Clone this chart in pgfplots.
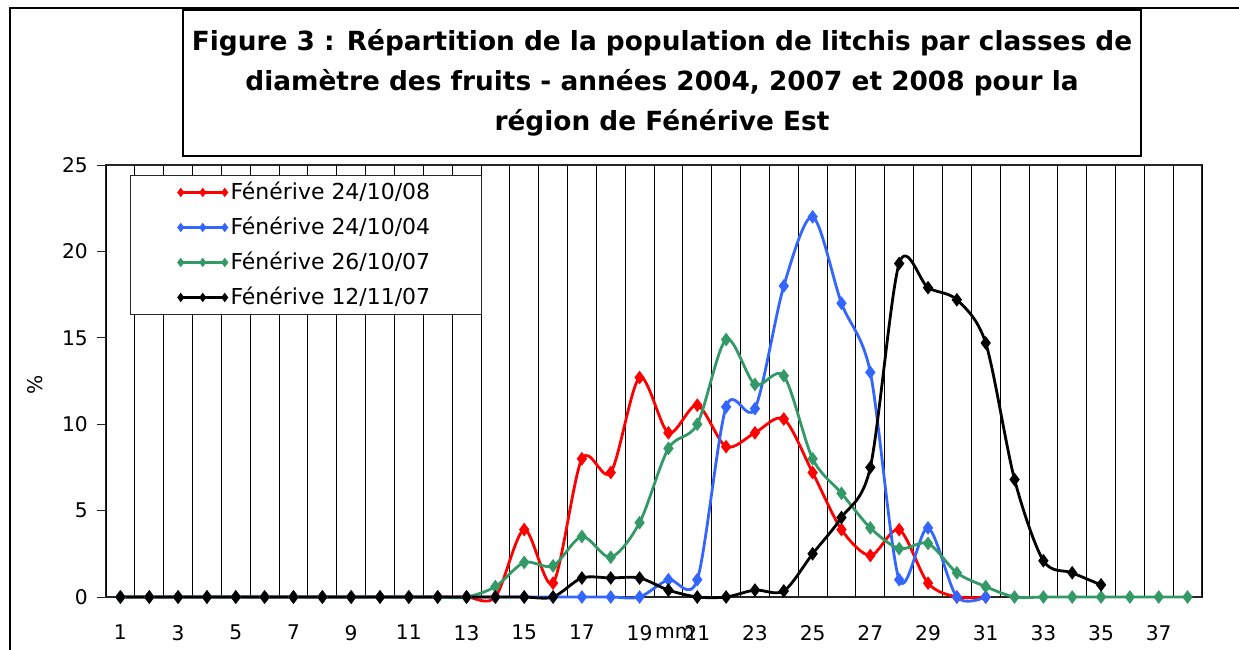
\documentclass[border=0pt]{standalone}
\usepackage{pgfplots}
\pgfplotsset{compat=1.18}
\usepackage{fontspec}
\setmainfont{DejaVu Sans}
\definecolor{cred}{RGB}{255,0,0}
\definecolor{cblue}{RGB}{51,102,255}
\definecolor{cgreen}{RGB}{51,153,102}
\begin{document}
\begin{tikzpicture}
\useasboundingbox (0,0) rectangle (24.78,13);
\clip (0,0) rectangle (24.78,13);
\draw[line width=0.7pt] (0.2,-1) rectangle (26,12.84);
\draw[line width=0.8pt] (3.66,9.88) rectangle (22.82,12.8);
\node[align=center, font=\fontsize{15}{22.7}\selectfont\bfseries] at (13.24,11.34)
 {Figure 3 : Répartition de la population de litchis par classes de\\
  diamètre des fruits - années 2004, 2007 et 2008 pour la\\
  région de Fénérive Est};
\node[rotate=90, font=\fontsize{11.5}{13}\selectfont] at (0.7,5.3) {\%};
\begin{axis}[
  at={(2.12cm,1.06cm)}, anchor=south west,
  scale only axis, width=21.92cm, height=8.64cm,
  xmin=0.5, xmax=38.5, ymin=0, ymax=25,
  clip=false,
  axis line style={black!85, line width=0.7pt},
  tick pos=left,
  xtick={1,3,...,37},
  x tick style={draw=none},
  extra x ticks={0.5,1.5,...,38.5},
  extra x tick labels={},
  extra x tick style={grid=major, major grid style={black, line width=0.5pt}, tick style={draw=black!85, line width=0.5pt}, major tick length=0.15cm, tick align=outside},
  ytick={0,5,...,25},
  y tick style={black!85, line width=0.5pt},
  tick align=outside, major tick length=0.18cm,
  /pgf/number format/assume math mode=true,
  ticklabel style={font=\fontsize{11.5}{13}\selectfont},
  x tick label style={yshift=-0.26cm},
  y tick label style={xshift=-0.06cm},
  legend style={at={(axis description cs:0.0219,0.977)}, anchor=north west,
    draw=black!85, line width=0.6pt, font=\fontsize{12.5}{14}\selectfont,
    inner xsep=0.96cm, inner ysep=0.03cm,
    nodes={inner sep=0.07cm, text height=0.38cm, text depth=0.1cm}, row sep=0.08cm},
  legend cell align=left,
  legend image code/.code={\draw[#1, line width=1.2pt, mark size=1.7pt] plot coordinates {(0cm,0cm) (0.44cm,0cm) (0.88cm,0cm)};},
  every axis plot/.append style={smooth, tension=0.5, line width=1.6pt, mark=diamond*, mark size=2.6pt, mark repeat=1},
]
\addplot[cred, mark options={fill=cred, draw=cred}] coordinates {
(1,0)(2,0)(3,0)(4,0)(5,0)(6,0)(7,0)(8,0)(9,0)(10,0)(11,0)(12,0)(13,0)(14,0)
(15,3.9)(16,0.8)(17,8.0)(18,7.2)(19,12.7)(20,9.5)(21,11.1)(22,8.7)(23,9.5)(24,10.3)
(25,7.2)(26,3.9)(27,2.4)(28,3.9)(29,0.8)(30,0)(31,0)};
\addlegendentry{Fénérive 24/10/08}
\addplot[cblue, mark options={fill=cblue, draw=cblue}] coordinates {
(1,0)(2,0)(3,0)(4,0)(5,0)(6,0)(7,0)(8,0)(9,0)(10,0)(11,0)(12,0)(13,0)(14,0)
(15,0)(16,0)(17,0)(18,0)(19,0)(20,1.0)(21,1.0)(22,11.0)(23,10.9)(24,18.0)
(25,22.0)(26,17.0)(27,13.0)(28,1.0)(29,4.0)(30,0)(31,0)};
\addlegendentry{Fénérive 24/10/04}
\addplot[cgreen, mark options={fill=cgreen, draw=cgreen}] coordinates {
(1,0)(2,0)(3,0)(4,0)(5,0)(6,0)(7,0)(8,0)(9,0)(10,0)(11,0)(12,0)(13,0)(14,0.6)
(15,2.0)(16,1.8)(17,3.5)(18,2.3)(19,4.3)(20,8.6)(21,10.0)(22,14.9)(23,12.3)(24,12.8)
(25,8.0)(26,6.0)(27,4.0)(28,2.8)(29,3.1)(30,1.4)(31,0.6)(32,0)(33,0)(34,0)(35,0)(36,0)(37,0)(38,0)};
\addlegendentry{Fénérive 26/10/07}
\addplot[black, mark options={fill=black, draw=black}] coordinates {
(1,0)(2,0)(3,0)(4,0)(5,0)(6,0)(7,0)(8,0)(9,0)(10,0)(11,0)(12,0)(13,0)(14,0)
(15,0)(16,0)(17,1.1)(18,1.1)(19,1.1)(20,0.4)(21,0)(22,0)(23,0.4)(24,0.35)
(25,2.5)(26,4.6)(27,7.5)(28,19.3)(29,17.9)(30,17.2)(31,14.7)(32,6.8)(33,2.1)(34,1.4)(35,0.7)};
\addlegendentry{Fénérive 12/11/07}
\node[font=\fontsize{11.5}{13}\selectfont] at (axis description cs:0.519,-0.083) {mm};
\end{axis}
\end{tikzpicture}
\end{document}
